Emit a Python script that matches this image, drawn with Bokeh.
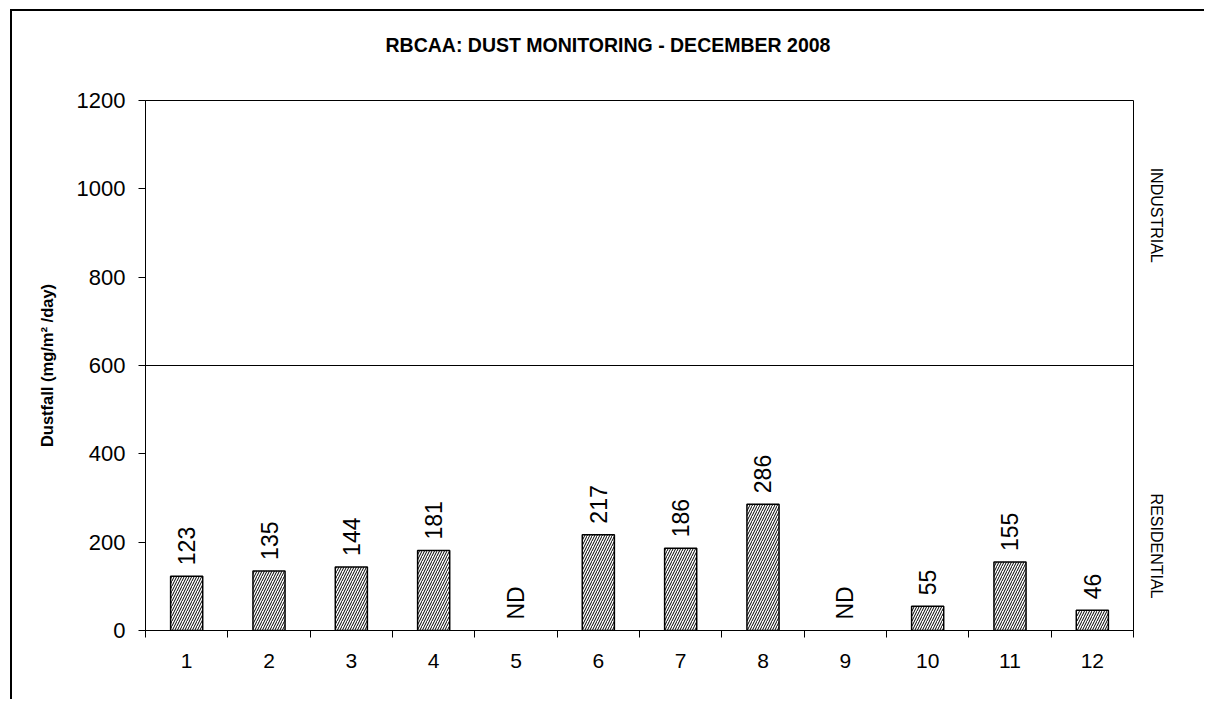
import math
from bokeh.plotting import figure
from bokeh.models import (Range1d, FixedTicker, Span, LabelSet, LinearAxis,
                          ColumnDataSource, Title)
from bokeh.core.properties import value
from bokeh.embed import file_html
from bokeh.resources import INLINE

# ---- data ----
title_text = "RBCAA: DUST MONITORING - DECEMBER 2008"
sites = [1, 2, 3, 4, 5, 6, 7, 8, 9, 10, 11, 12]
dustfall = [123, 135, 144, 181, None, 217, 186, 286, None, 55, 155, 46]
y_ticks = [0, 200, 400, 600, 800, 1000, 1200]
threshold = 600
zone_labels = ["INDUSTRIAL", "RESIDENTIAL"]
zone_label_y = [1048, 310]
y_label = "Dustfall (mg/m\u00b2 /day)"

FONT = "Liberation Sans"

bar_tops = [v if v is not None else float("nan") for v in dustfall]
label_y = [v if v is not None else 0 for v in dustfall]
label_txt = [str(v) if v is not None else "ND" for v in dustfall]

src = ColumnDataSource(dict(x=sites, top=bar_tops, ly=label_y, txt=label_txt))

p = figure(width=1194, height=690, output_backend="svg", toolbar_location=None,
           x_range=Range1d(0.5, 12.5), y_range=Range1d(0, 1200),
           min_border_left=133, min_border_right=73, min_border_top=89,
           min_border_bottom=71, title=title_text)
p.styles = {"margin-left": "10px", "margin-top": "9px",
            "border-top": "2px solid black", "border-left": "2px solid black"}
p.background_fill_color = "white"
p.border_fill_color = "white"
p.outline_line_color = "black"
p.outline_line_width = 1
p.xgrid.visible = False
p.ygrid.visible = False

# title
p.title.align = "left"
p.title.offset = 240
p.title.standoff = 10
p.title.text_font = FONT
p.title.text_font_style = "bold"
p.title.text_font_size = "19.5px"
p.title.text_color = "black"
# blank spacer between title and plot area
p.add_layout(Title(text=" ", text_font_size="20px", standoff=16), "above")

# bars
p.vbar(x="x", top="top", bottom=0, width=0.39, source=src,
       fill_color="white", line_color="black", line_width=1.5,
       hatch_pattern="right_diagonal_line", hatch_color="black",
       hatch_scale=5, hatch_weight=1)

# threshold line
p.add_layout(Span(location=threshold, dimension="width", line_color="black",
                  line_width=1))

# value labels
p.add_layout(LabelSet(x="x", y="ly", text="txt", source=src, angle=math.pi / 2,
                      text_align="left", text_baseline="middle", y_offset=11,
                      text_font=value(FONT), text_font_size="23px",
                      text_color="black"))

# y axis
ya = p.yaxis[0]
ya.ticker = FixedTicker(ticks=y_ticks, minor_ticks=[])
ya.major_tick_out = 7
ya.major_tick_in = 0
ya.major_tick_line_color = "black"
ya.axis_line_color = "black"
ya.major_label_standoff = 13
ya.major_label_text_font = FONT
ya.major_label_text_font_size = "22px"
ya.major_label_text_color = "black"
ya.axis_label = y_label
ya.axis_label_text_font = FONT
ya.axis_label_text_font_style = "bold"
ya.axis_label_text_font_size = "16.5px"
ya.axis_label_text_color = "black"
ya.axis_label_standoff = 18

# x axis
xa = p.xaxis[0]
xa.ticker = FixedTicker(ticks=sites, minor_ticks=[s + 0.5 for s in [0] + sites])
xa.major_tick_out = 0
xa.major_tick_in = 0
xa.minor_tick_out = 7
xa.minor_tick_in = 0
xa.minor_tick_line_color = "black"
xa.axis_line_color = "black"
xa.major_label_standoff = 16
xa.major_label_text_font = FONT
xa.major_label_text_font_size = "21px"
xa.major_label_text_color = "black"

# right-hand zone labels
ra = LinearAxis(ticker=FixedTicker(ticks=zone_label_y, minor_ticks=[]),
                major_label_overrides={yy: t for yy, t in zip(zone_label_y, zone_labels)},
                major_label_orientation=-math.pi / 2,
                axis_line_color=None, major_tick_line_color=None,
                minor_tick_line_color=None, major_label_standoff=17,
                major_label_text_font=FONT, major_label_text_font_size="16px",
                major_label_text_color="black")
p.add_layout(ra, "right")

open("out.html", "w").write(file_html(p, INLINE))
